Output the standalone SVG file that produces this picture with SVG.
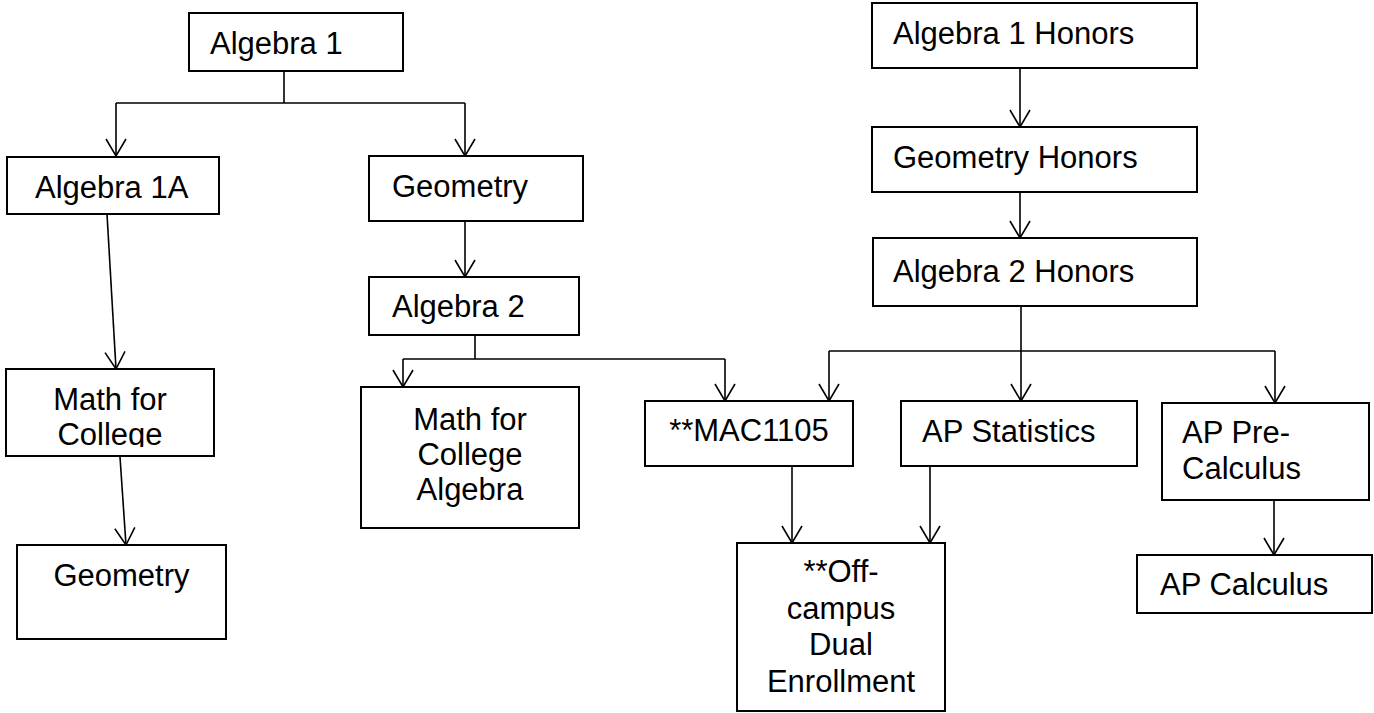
<svg xmlns="http://www.w3.org/2000/svg" width="1374" height="713" viewBox="0 0 1374 713">
<style>
.box{fill:#fff;stroke:#000;stroke-width:2}
.t{font-family:"Liberation Sans",Arial,sans-serif;font-size:31px;fill:#000}
.c{text-anchor:middle}
.ln{fill:none;stroke:#000;stroke-width:1.6}
</style>
<defs>
<marker id="ah" markerUnits="userSpaceOnUse" markerWidth="24" markerHeight="24" viewBox="-20 -12 24 24" refX="0" refY="0" orient="auto">
<path d="M-17,-10 L0,0 L-17,10" fill="none" stroke="#000" stroke-width="1.6"/>
</marker>
<clipPath id="clipMFC"><rect x="0" y="360" width="230" height="87"/></clipPath>
</defs>
<rect width="1374" height="713" fill="#fff"/>
<g id="connectors">
<path class="ln" d="M284,71 V103 M116,103 H465"/>
<path class="ln" d="M116,103 V156" marker-end="url(#ah)"/>
<path class="ln" d="M465,103 V156" marker-end="url(#ah)"/>
<path class="ln" d="M107,214 L116,369" marker-end="url(#ah)"/>
<path class="ln" d="M120,457 L126,545" marker-end="url(#ah)"/>
<path class="ln" d="M465,221 V277" marker-end="url(#ah)"/>
<path class="ln" d="M475,335 V359 M403,359 H725"/>
<path class="ln" d="M403,359 V387" marker-end="url(#ah)"/>
<path class="ln" d="M725,359 V401" marker-end="url(#ah)"/>
<path class="ln" d="M1020,68 V127" marker-end="url(#ah)"/>
<path class="ln" d="M1020,192 V238" marker-end="url(#ah)"/>
<path class="ln" d="M1021,306 V401" marker-end="url(#ah)"/>
<path class="ln" d="M829,351 H1275"/>
<path class="ln" d="M829,351 V401" marker-end="url(#ah)"/>
<path class="ln" d="M1275,351 V403" marker-end="url(#ah)"/>
<path class="ln" d="M792,466 V543" marker-end="url(#ah)"/>
<path class="ln" d="M930,466 V543" marker-end="url(#ah)"/>
<path class="ln" d="M1274,500 V555" marker-end="url(#ah)"/>
</g>
<g id="algebra1"><rect class="box" x="189" y="13" width="214" height="58"/><text class="t" x="210" y="54">Algebra 1</text></g>
<g id="algebra1a"><rect class="box" x="7" y="157" width="212" height="57"/><text class="t" x="35" y="198">Algebra 1A</text></g>
<g id="geometry"><rect class="box" x="369" y="156" width="214" height="65"/><text class="t" x="392" y="197">Geometry</text></g>
<g id="algebra2"><rect class="box" x="369" y="277" width="210" height="58"/><text class="t" x="392" y="317">Algebra 2</text></g>
<g id="mathForCollege"><rect class="box" x="6" y="369" width="208" height="87"/><g clip-path="url(#clipMFC)"><text class="t c" x="110" y="410">Math for</text><text class="t c" x="110" y="445">College</text></g></g>
<g id="geometryLeft"><rect class="box" x="17" y="545" width="209" height="94"/><text class="t c" x="121.5" y="586">Geometry</text></g>
<g id="mathForCollegeAlgebra"><rect class="box" x="361" y="387" width="218" height="141"/><text class="t c" x="470" y="430">Math for</text><text class="t c" x="470" y="465">College</text><text class="t c" x="470" y="500">Algebra</text></g>
<g id="mac1105"><rect class="box" x="645" y="401" width="208" height="65"/><text class="t c" x="749" y="441">**MAC1105</text></g>
<g id="offCampus"><rect class="box" x="737" y="543" width="208" height="168"/><text class="t c" x="841" y="582">**Off-</text><text class="t c" x="841" y="618.5">campus</text><text class="t c" x="841" y="655">Dual</text><text class="t c" x="841" y="691.5">Enrollment</text></g>
<g id="algebra1Honors"><rect class="box" x="872" y="3" width="325" height="65"/><text class="t" x="893" y="44">Algebra 1 Honors</text></g>
<g id="geometryHonors"><rect class="box" x="872" y="127" width="325" height="65"/><text class="t" x="893" y="168">Geometry Honors</text></g>
<g id="algebra2Honors"><rect class="box" x="873" y="238" width="324" height="68"/><text class="t" x="893" y="282">Algebra 2 Honors</text></g>
<g id="apStatistics"><rect class="box" x="901" y="401" width="236" height="65"/><text class="t" x="922" y="442">AP Statistics</text></g>
<g id="apPreCalculus"><rect class="box" x="1162" y="403" width="207" height="97"/><text class="t" x="1182" y="443">AP Pre-</text><text class="t" x="1182" y="479">Calculus</text></g>
<g id="apCalculus"><rect class="box" x="1137" y="555" width="235" height="58"/><text class="t" x="1160" y="595">AP Calculus</text></g>
</svg>
